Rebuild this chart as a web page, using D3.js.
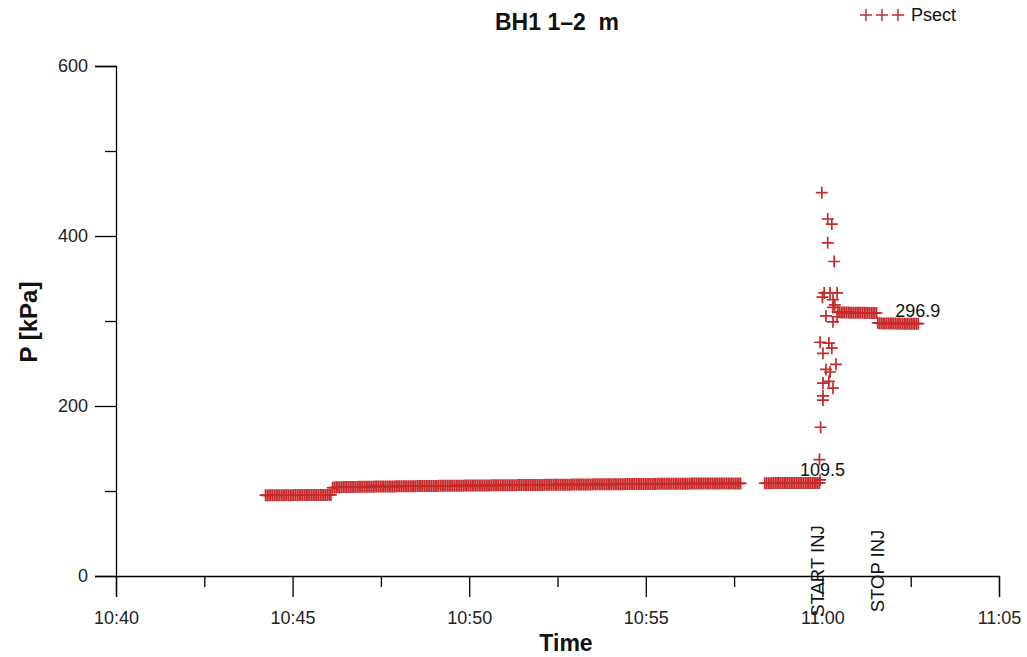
<!DOCTYPE html>
<html lang="en">
<head>
  <meta charset="UTF-8">
  <title>BH1 1–2 m</title>
  <script src="https://d3js.org/d3.v7.min.js"></script>
  <style>
    body { margin: 0; background: #fff; }
    svg { font-family: "Liberation Sans", Arial, sans-serif; }
  </style>
</head>
<body>
  <div id="chart"></div>
  <script>
    // dense logger segments: start time + pressures (kPa), one reading every stepSeconds
    const stepSeconds = 3;

    const seg1Start = "10:44:14";
    const seg1Values = [
      95.1,94.8,94.9,95.0,95.0,95.1,95.0,94.9,95.0,95.1,
      95.1,95.0,95.2,95.1,95.0,95.1,95.2,95.2,95.1,95.2,
      95.3,95.2,95.2,95.3,95.3,95.2,95.3,95.4,95.3,95.3,
      95.4,95.3,95.4,95.4,95.3,95.4,95.5,95.4
    ];

    const seg2Start = "10:46:08";
    const seg2Values = [
      103.8,104.1,104.3,104.4,104.5,104.5,104.6,104.6,104.6,104.7,104.7,104.7,104.8,104.8,104.8,104.9,104.9,104.9,105.0,105.0,
      105.0,105.1,105.1,105.1,105.2,105.2,105.2,105.2,105.3,105.3,105.3,105.3,105.4,105.4,105.4,105.4,105.5,105.5,105.5,105.5,
      105.6,105.6,105.6,105.6,105.7,105.7,105.7,105.7,105.8,105.8,105.8,105.8,105.9,105.9,105.9,105.9,106.0,106.0,106.0,106.0,
      106.1,106.1,106.1,106.1,106.1,106.2,106.2,106.2,106.2,106.2,106.3,106.3,106.3,106.3,106.3,106.4,106.4,106.4,106.4,106.4,
      106.5,106.5,106.5,106.5,106.5,106.6,106.6,106.6,106.6,106.6,106.7,106.7,106.7,106.7,106.7,106.8,106.8,106.8,106.8,106.8,
      106.9,106.9,106.9,106.9,106.9,107.0,107.0,107.0,107.0,107.0,107.1,107.1,107.1,107.1,107.1,107.2,107.2,107.2,107.2,107.2,
      107.3,107.3,107.3,107.3,107.3,107.4,107.4,107.4,107.4,107.4,107.5,107.5,107.5,107.5,107.5,107.5,107.6,107.6,107.6,107.6,
      107.6,107.6,107.7,107.7,107.7,107.7,107.7,107.7,107.8,107.8,107.8,107.8,107.8,107.8,107.9,107.9,107.9,107.9,107.9,107.9,
      108.0,108.0,108.0,108.0,108.0,108.0,108.1,108.1,108.1,108.1,108.1,108.1,108.2,108.2,108.2,108.2,108.2,108.2,108.3,108.3,
      108.3,108.3,108.3,108.3,108.4,108.4,108.4,108.4,108.4,108.4,108.5,108.5,108.5,108.5,108.5,108.5,108.6,108.6,108.6,108.6,
      108.6,108.6,108.6,108.7,108.7,108.7,108.7,108.7,108.7,108.7,108.8,108.8,108.8,108.8,108.8,108.8,108.8,108.8,108.8,108.8,
      108.9,108.9,108.9,108.9,108.9,108.9,108.9,108.9,108.9,108.9,108.9,108.9
    ];

    const seg3Start = "10:58:22";
    const seg3Values = [
      109.1,109.2,109.2,109.2,109.2,109.3,109.3,109.3,109.3,109.3,
      109.3,109.4,109.4,109.4,109.4,109.4,109.4,109.4,109.5,109.5,
      109.5,109.5,109.5,109.5,109.5,109.5,109.5,109.5,109.5,109.5,
      109.5,109.5
    ];

    const seg4Start = "11:00:26";
    const seg4Values = [
      310.6,310.3,310.1,310.0,309.9,309.9,310.0,309.8,309.8,309.7,
      309.8,309.7,309.6,309.7,309.6,309.6,309.5,309.6,309.5,309.5,
      309.4,309.5,309.4
    ];

    const seg5Start = "11:01:34";
    const seg5Values = [
      297.9,297.5,297.3,297.2,297.2,297.1,297.2,297.0,297.1,297.0,
      297.0,296.9,297.0,296.9,296.9,296.9,296.8,296.9,296.9,296.8,
      296.9,296.9,296.8,296.9
    ];

    // injection spike, individual readings
    const spikeTimes = ["10:59:55","10:59:56","10:59:57","11:00:01","11:00:01","11:00:01","11:00:11","11:00:18","11:00:06","11:00:13",
                        "11:00:23","11:00:01","11:00:16","10:59:56","11:00:11","10:59:59","11:00:09","11:00:16","11:00:09","11:00:20",
                        "11:00:03","11:00:13","11:00:25","11:00:18","11:00:21","11:00:18","11:00:06","11:00:18","11:00:25","11:00:00"];
    const spikeValues = [137,113,175,207,212,227,229,221,243,240,
                         249,262,268,275,274,451,420,414,392,370,
                         333,333,333,325,319,316,306,299,305,328];

    const labelTimes = ["11:00:00", "11:02:42"];
    const labelValues = [109.5, 296.9];

    const eventTimes = ["11:00:00", "11:01:42"];
    const eventNames = ["START INJ", "STOP INJ"];

    const yTicks = [0, 100, 200, 300, 400, 500, 600];

    const parse = d3.timeParse("%H:%M:%S");

    function expand(start, values) {
      const t0 = parse(start);
      return values.map((v, i) => ({ t: new Date(t0.getTime() + i * stepSeconds * 1000), p: v }));
    }

    const points = [].concat(
      expand(seg1Start, seg1Values),
      expand(seg2Start, seg2Values),
      expand(seg3Start, seg3Values),
      spikeTimes.map((t, i) => ({ t: parse(t), p: spikeValues[i] })),
      expand(seg4Start, seg4Values),
      expand(seg5Start, seg5Values)
    );

    function drawChart() {
      const width = 1027, height = 657;
      const red = "#c62a2a";
      const plus = "M-6,0H6M0,-6V6";

      const svg = d3.select("#chart").append("svg")
        .attr("width", width)
        .attr("height", height);

      const x = d3.scaleTime()
        .domain([parse("10:40:00"), parse("11:05:00")])
        .range([116, 999]);
      const y = d3.scaleLinear()
        .domain([0, 600])
        .range([576, 66]);

      // y axis: long major ticks, short minor ones
      const yAxis = svg.append("g")
        .attr("transform", "translate(116,0)")
        .call(d3.axisLeft(y).tickValues(yTicks).tickSizeOuter(0)
          .tickSize(21).tickPadding(7).tickFormat(d => d % 200 === 0 ? d : ""));
      yAxis.selectAll(".tick line").attr("x2", d => d % 200 === 0 ? -21 : -11);

      const xTickVals = d3.range(0, 11).map(i => new Date(parse("10:40:00").getTime() + i * 150000));
      const xAxis = svg.append("g")
        .attr("transform", "translate(0,576)")
        .call(d3.axisBottom(x).tickValues(xTickVals).tickSizeOuter(0)
          .tickSize(21).tickPadding(14)
          .tickFormat((d, i) => i % 2 === 0 ? d3.timeFormat("%H:%M")(d) : ""));
      xAxis.selectAll(".tick line").attr("y2", (d, i) => i % 2 === 0 ? 21 : 11);

      svg.selectAll(".domain, .tick line").attr("stroke", "#000").attr("stroke-width", 1.3);
      svg.selectAll(".tick text").attr("fill", "#222").attr("font-size", 18)
        .attr("font-family", "Liberation Sans, Arial, sans-serif");

      // markers
      svg.append("g").selectAll("path")
        .data(points)
        .join("path")
        .attr("transform", d => `translate(${x(d.t)},${y(d.p)})`)
        .attr("d", plus)
        .attr("fill", "none")
        .attr("stroke", red)
        .attr("stroke-width", 1.7);

      // value labels
      svg.append("g").selectAll("text")
        .data(labelTimes)
        .join("text")
        .attr("x", d => x(parse(d)))
        .attr("y", (d, i) => y(labelValues[i]) - 7)
        .attr("text-anchor", "middle")
        .attr("font-size", 18)
        .attr("fill", "#111")
        .text((d, i) => labelValues[i]);

      // event labels, vertical
      svg.append("g").selectAll("text")
        .data(eventTimes)
        .join("text")
        .attr("transform", d => `translate(${x(parse(d)) + 2},571) rotate(-90)`)
        .attr("text-anchor", "middle")
        .attr("font-size", 18.5)
        .attr("fill", "#111")
        .text((d, i) => eventNames[i]);

      // title
      svg.append("text")
        .attr("x", 557).attr("y", 30)
        .attr("text-anchor", "middle")
        .attr("font-size", 23).attr("font-weight", "bold")
        .attr("fill", "#111")
        .attr("xml:space", "preserve")
        .text("BH1 1–2  m");

      // axis titles
      svg.append("text")
        .attr("x", 566).attr("y", 651)
        .attr("text-anchor", "middle")
        .attr("font-size", 23).attr("font-weight", "bold")
        .attr("fill", "#111")
        .text("Time");
      svg.append("text")
        .attr("transform", "translate(37,322) rotate(-90)")
        .attr("text-anchor", "middle")
        .attr("font-size", 24).attr("font-weight", "bold")
        .attr("fill", "#111")
        .text("P [kPa]");

      // legend
      const legend = svg.append("g").attr("transform", "translate(866,15)");
      legend.selectAll("path")
        .data([0, 1, 2])
        .join("path")
        .attr("transform", d => `translate(${d * 16},0)`)
        .attr("d", plus)
        .attr("fill", "none")
        .attr("stroke", red)
        .attr("stroke-width", 1.5);
      legend.append("text")
        .attr("x", 45).attr("y", 6)
        .attr("font-size", 18)
        .attr("fill", "#111")
        .text("Psect");
    }

    drawChart();
  </script>
</body>
</html>
